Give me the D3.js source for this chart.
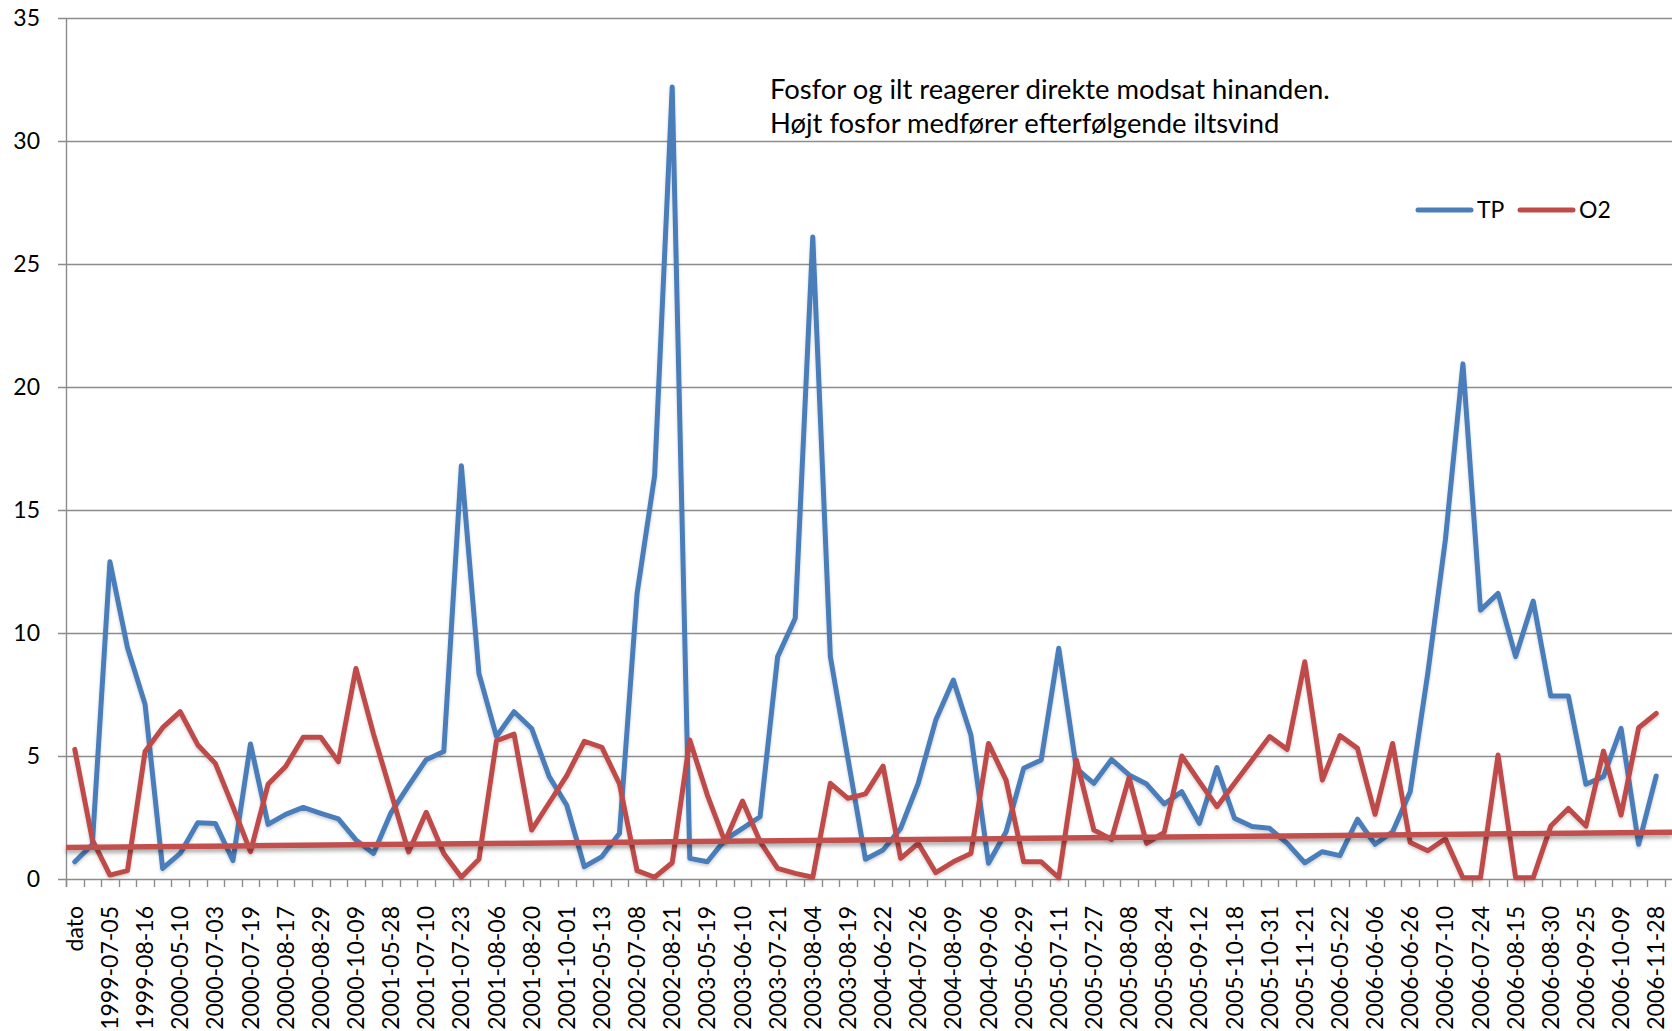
<!DOCTYPE html>
<html>
<head>
<meta charset="utf-8">
<script src="https://cdn.jsdelivr.net/npm/d3@7"></script>
<style>
  body { margin: 0; background: #fff; }
  svg { display: block; }
  .tick-y { font-family: Lato, "Open Sans", sans-serif; font-size: 23px; fill: #000; }
  .tick-x { font-family: Lato, "Open Sans", sans-serif; font-size: 23px; fill: #000; }
  .note { font-family: Lato, "Open Sans", sans-serif; font-size: 27.4px; fill: #000; }
  .legend { font-family: Lato, "Open Sans", sans-serif; font-size: 23px; fill: #000; }
</style>
</head>
<body>
<svg width="1672" height="1031"></svg>
<script>
var svg = d3.select("svg"),
    width = +svg.attr("width"),
    height = +svg.attr("height");

// every second sample date is printed on the axis
var tickLabels = ["dato", "1999-07-05", "1999-08-16", "2000-05-10", "2000-07-03", "2000-07-19",
  "2000-08-17", "2000-08-29", "2000-10-09", "2001-05-28", "2001-07-10", "2001-07-23",
  "2001-08-06", "2001-08-20", "2001-10-01", "2002-05-13", "2002-07-08", "2002-08-21",
  "2003-05-19", "2003-06-10", "2003-07-21", "2003-08-04", "2003-08-19", "2004-06-22",
  "2004-07-26", "2004-08-09", "2004-09-06", "2005-06-29", "2005-07-11", "2005-07-27",
  "2005-08-08", "2005-08-24", "2005-09-12", "2005-10-18", "2005-10-31", "2005-11-21",
  "2006-05-22", "2006-06-06", "2006-06-26", "2006-07-10", "2006-07-24", "2006-08-15",
  "2006-08-30", "2006-09-25", "2006-10-09", "2006-11-28"];

var tp = [0.7, 1.4, 12.9, 9.4, 7.1, 0.43, 1.04, 2.29, 2.26, 0.75,
  5.49, 2.22, 2.63, 2.91, 2.67, 2.44, 1.59, 1.04, 2.7, 3.8,
  4.85, 5.18, 16.8, 8.36, 5.79, 6.8, 6.12, 4.16, 3.0, 0.5,
  0.91, 1.86, 11.6, 16.4, 32.2, 0.84, 0.7, 1.59, 2.06, 2.53,
  9.04, 10.6, 26.1, 9.04, 4.9, 0.8, 1.18, 2.06, 3.89, 6.46,
  8.09, 5.85, 0.64, 1.92, 4.5, 4.84, 9.38, 4.5, 3.89, 4.86,
  4.23, 3.86, 3.05, 3.55, 2.26, 4.53, 2.47, 2.13, 2.06, 1.45,
  0.66, 1.11, 0.95, 2.43, 1.41, 1.92, 3.55, 8.36, 13.78, 20.94,
  10.93, 11.61, 9.04, 11.3, 7.44, 7.44, 3.85, 4.16, 6.12, 1.41,
  4.19];

var o2 = [5.27, 1.59, 0.16, 0.34, 5.18, 6.15, 6.8, 5.45, 4.7, 2.94,
  1.11, 3.85, 4.57, 5.76, 5.76, 4.77, 8.56, 5.9, 3.5, 1.1,
  2.71, 1.04, 0.07, 0.8, 5.62, 5.89, 1.99, 3.1, 4.2, 5.6,
  5.35, 3.86, 0.34, 0.07, 0.66, 5.65, 3.41, 1.52, 3.17, 1.52,
  0.43, 0.23, 0.07, 3.89, 3.28, 3.46, 4.59, 0.84, 1.45, 0.26,
  0.7, 1.04, 5.51, 4.02, 0.7, 0.7, 0.05, 4.84, 1.99, 1.61,
  4.12, 1.45, 1.9, 5.0, 3.96, 2.94, 3.89, 4.84, 5.79, 5.27,
  8.83, 4.02, 5.83, 5.31, 2.63, 5.51, 1.48, 1.15, 1.63, 0.05,
  0.05, 5.04, 0.05, 0.05, 2.15, 2.87, 2.15, 5.2, 2.6, 6.15,
  6.73];

// linear trendline of O2, value at the left and right edge of the plot
var o2Trend = [1.28, 1.9];

var yTicks = [0, 5, 10, 15, 20, 25, 30, 35];

var categories = tp.map(function(d, i) { return i; });

var margin = {left: 66, right: 7, top: 18, bottom: 152};

var x = d3.scaleBand()
    .domain(categories)
    .range([margin.left, width - margin.right]);

var y = d3.scaleLinear()
    .domain([0, 35])
    .range([height - margin.bottom, margin.top]);

var cx = function(i) { return x(i) + x.bandwidth() / 2; };

var defs = svg.append("defs");
var shadow = defs.append("filter")
    .attr("id", "shadow")
    .attr("x", "-5%").attr("y", "-200%")
    .attr("width", "110%").attr("height", "500%");
shadow.append("feDropShadow")
    .attr("dx", 0).attr("dy", 3)
    .attr("stdDeviation", 2.2)
    .attr("flood-color", "#000")
    .attr("flood-opacity", 0.35);

var soft = defs.append("filter")
    .attr("id", "soft")
    .attr("x", "-5%").attr("y", "-5%")
    .attr("width", "110%").attr("height", "110%");
soft.append("feDropShadow")
    .attr("dx", 0).attr("dy", 2)
    .attr("stdDeviation", 1.5)
    .attr("flood-color", "#000")
    .attr("flood-opacity", 0.18);

// gridlines + y ticks
svg.append("g")
    .attr("class", "grid")
  .selectAll("line")
  .data(yTicks)
  .enter().append("line")
    .attr("x1", margin.left - 8)
    .attr("x2", width)
    .attr("y1", function(d) { return y(d) + 0.5; })
    .attr("y2", function(d) { return y(d) + 0.5; })
    .attr("stroke", "#8c8c8c")
    .attr("stroke-width", 1.4);

svg.append("g")
  .selectAll("text")
  .data(yTicks)
  .enter().append("text")
    .attr("class", "tick-y")
    .attr("x", 40)
    .attr("y", function(d) { return y(d); })
    .attr("dy", "0.35em")
    .attr("text-anchor", "end")
    .text(function(d) { return d; });

// y axis line
svg.append("line")
    .attr("x1", margin.left + 0.5).attr("x2", margin.left + 0.5)
    .attr("y1", y(35)).attr("y2", y(0) + 8)
    .attr("stroke", "#8c8c8c")
    .attr("stroke-width", 1.4);

// x ticks at category boundaries
var bounds = categories.map(function(i) { return x(i); }).concat([width - margin.right]);
svg.append("g")
  .selectAll("line")
  .data(bounds)
  .enter().append("line")
    .attr("x1", function(d) { return Math.round(d) + 0.5; })
    .attr("x2", function(d) { return Math.round(d) + 0.5; })
    .attr("y1", y(0))
    .attr("y2", y(0) + 8)
    .attr("stroke", "#8c8c8c")
    .attr("stroke-width", 1.4);

// rotated date labels
svg.append("g")
  .selectAll("text")
  .data(tickLabels)
  .enter().append("text")
    .attr("class", "tick-x")
    .attr("text-anchor", "end")
    .attr("dy", "0.35em")
    .attr("transform", function(d, k) {
      return "translate(" + cx(k * 2) + "," + (y(0) + 27) + ") rotate(-90)";
    })
    .text(function(d) { return d; });

var line = d3.line()
    .x(function(d, i) { return cx(i); })
    .y(function(d) { return y(d); });

svg.append("path")
    .datum(tp)
    .attr("d", line)
    .attr("fill", "none")
    .attr("stroke", "#4a7ebb")
    .attr("stroke-width", 5)
    .attr("stroke-linejoin", "round")
    .attr("stroke-linecap", "round")
    .attr("filter", "url(#soft)");

svg.append("path")
    .datum(o2)
    .attr("d", line)
    .attr("fill", "none")
    .attr("stroke", "#be4b48")
    .attr("stroke-width", 5)
    .attr("stroke-linejoin", "round")
    .attr("stroke-linecap", "round")
    .attr("filter", "url(#soft)");

// trendline
svg.append("line")
    .attr("x1", margin.left)
    .attr("x2", width)
    .attr("y1", y(o2Trend[0]))
    .attr("y2", y(o2Trend[1]))
    .attr("stroke", "#c0504d")
    .attr("stroke-width", 5.5)
    .attr("filter", "url(#shadow)");

// annotation
var note = svg.append("text")
    .attr("class", "note")
    .attr("x", 770)
    .attr("y", 99);
note.append("tspan").attr("x", 770).text("Fosfor og ilt reagerer direkte modsat hinanden.");
note.append("tspan").attr("x", 770).attr("dy", 34).text("Højt fosfor medfører efterfølgende iltsvind");

// legend
var legend = [{name: "TP", color: "#4a7ebb", x: 1418}, {name: "O2", color: "#be4b48", x: 1520}];
var lg = svg.append("g").selectAll("g")
    .data(legend)
    .enter().append("g");
lg.append("line")
    .attr("x1", function(d) { return d.x; })
    .attr("x2", function(d) { return d.x + 53; })
    .attr("y1", 210).attr("y2", 210)
    .attr("stroke", function(d) { return d.color; })
    .attr("stroke-width", 5)
    .attr("stroke-linecap", "round");
lg.append("text")
    .attr("class", "legend")
    .attr("x", function(d) { return d.x + 59; })
    .attr("y", 210)
    .attr("dy", "0.35em")
    .text(function(d) { return d.name; });
</script>
</body>
</html>
